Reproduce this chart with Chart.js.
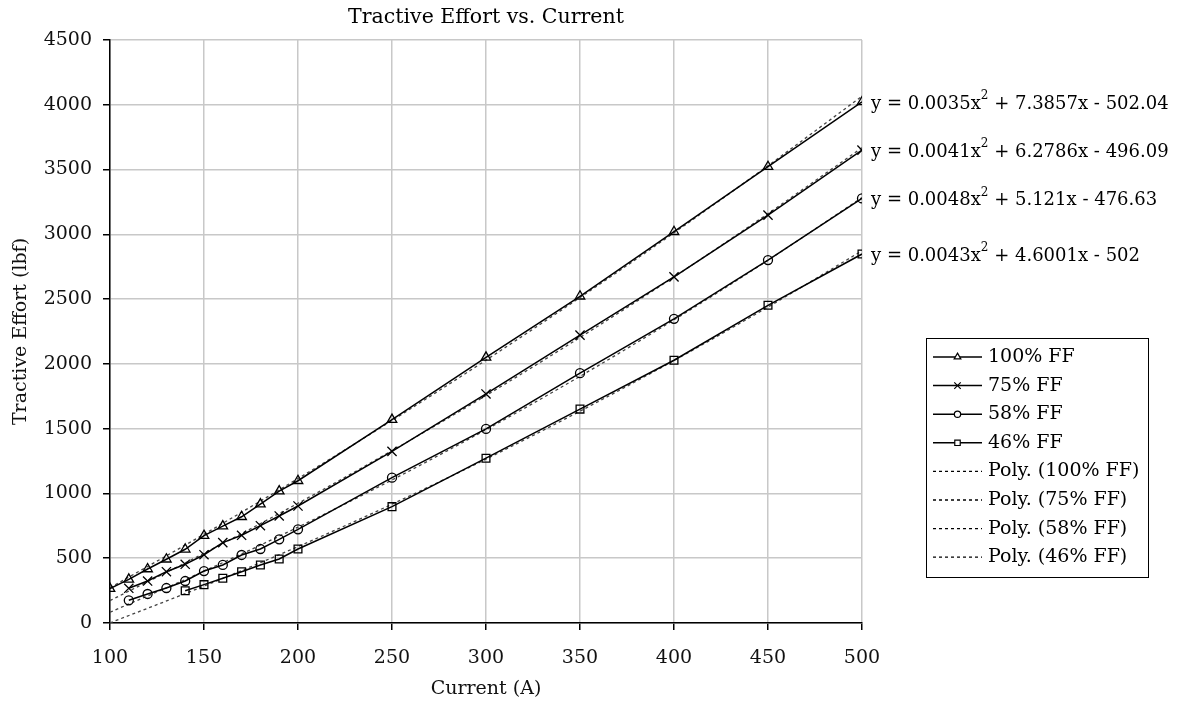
<!DOCTYPE html>
<html>
<head>
<meta charset="utf-8">
<title>Tractive Effort vs. Current</title>
<script src="https://cdn.jsdelivr.net/npm/chart.js@4.4.1/dist/chart.umd.min.js"></script>
<style>
  html, body { margin: 0; padding: 0; background: #fff; }
  #wrap { width: 1184px; height: 706px; }
</style>
</head>
<body>
<div id="wrap"><canvas id="chart" width="1184" height="706"></canvas></div>
<script>
// measured points
const currentLow = [100, 110, 120, 130, 140, 150, 160, 170, 180, 190, 200, 250, 300, 350, 400, 450, 500];
const current46 = [140, 150, 160, 170, 180, 190, 200, 250, 300, 350, 400, 450, 500];
const ff100 = [265, 337, 417, 492, 569, 674, 748, 820, 918, 1018, 1098, 1570, 2050, 2522, 3020, 3522, 4022];
const ff75 = [null, 268, 324, 396, 453, 527, 620, 677, 751, 826, 903, 1325, 1768, 2222, 2672, 3148, 3650];
const ff58 = [null, 175, 224, 270, 324, 401, 448, 525, 571, 646, 723, 1122, 1498, 1928, 2348, 2801, 3277];
const ff46 = [249, 296, 345, 396, 448, 494, 571, 898, 1272, 1651, 2028, 2452, 2848];

// trendlines (Excel poly fits)
const trendX = [100, 150, 200, 250, 300, 350, 400, 450, 500];
const trend100 = [272, 685, 1115, 1563, 2029, 2512, 3012, 3530, 4066];
const trend75 = [173, 538, 924, 1330, 1756, 2204, 2671, 3160, 3668];
const trend58 = [83, 400, 740, 1104, 1492, 1904, 2340, 2800, 3284];
const trend46 = [1, 285, 590, 917, 1265, 1635, 2026, 2439, 2873];

const seriesNames = ['100% FF', '75% FF', '58% FF', '46% FF'];
const eqLabels = [
    ['y = 0.0035x', '2', ' + 7.3857x - 502.04'],
    ['y = 0.0041x', '2', ' + 6.2786x - 496.09'],
    ['y = 0.0048x', '2', ' + 5.121x - 476.63'],
    ['y = 0.0043x', '2', ' + 4.6001x - 502']
];
const xTicks = [100, 150, 200, 250, 300, 350, 400, 450, 500];
const yTicks = [0, 500, 1000, 1500, 2000, 2500, 3000, 3500, 4000, 4500];

const FONT = 'DejaVu Serif';
const pts = (xs, ys) => xs.map((x, i) => ({ x: x, y: ys[i] })).filter(p => p.y !== null);

const markerStyles = ['triangle', 'crossRot', 'circle', 'rect'];
const markerSizes = [5.5, 6.5, 4.5, 5.5];
const dataSeries = [pts(currentLow, ff100), pts(currentLow, ff75), pts(currentLow, ff58), pts(current46, ff46)];
const trendSeries = [trend100, trend75, trend58, trend46];

const datasets = [];
dataSeries.forEach((d, i) => {
    datasets.push({
        label: seriesNames[i],
        data: d,
        borderColor: '#000',
        backgroundColor: 'rgba(0,0,0,0)',
        borderWidth: 1.5,
        pointStyle: markerStyles[i],
        pointRadius: markerSizes[i],
        pointBorderWidth: 1.3,
        pointBorderColor: '#000',
        pointBackgroundColor: 'rgba(0,0,0,0)',
        tension: 0
    });
});
trendSeries.forEach((t, i) => {
    datasets.push({
        label: 'Poly. (' + seriesNames[i] + ')',
        data: pts(trendX, t),
        borderColor: '#444',
        borderWidth: 1.3,
        borderDash: [3, 3],
        pointRadius: 0,
        cubicInterpolationMode: 'monotone'
    });
});

// title, equations, legend box
const extras = {
    id: 'extras',
    afterDraw(chart) {
        const ctx = chart.ctx;
        const area = chart.chartArea;
        const xs = chart.scales.x, ys = chart.scales.y;
        ctx.save();
        ctx.fillStyle = '#000';
        ctx.font = '20.5px "' + FONT + '"';
        ctx.textAlign = 'center';
        ctx.textBaseline = 'middle';
        ctx.fillText('Tractive Effort vs. Current', (area.left + area.right) / 2, 18);

        // equations next to the last point of each series
        ctx.textAlign = 'left';
        dataSeries.forEach((d, i) => {
            const last = d[d.length - 1];
            let px = xs.getPixelForValue(last.x) + 9;
            const py = ys.getPixelForValue(last.y) + 2;
            const parts = eqLabels[i];
            ctx.font = '18px "' + FONT + '"';
            ctx.fillText(parts[0], px, py);
            px += ctx.measureText(parts[0]).width;
            ctx.font = '12px "' + FONT + '"';
            ctx.fillText(parts[1], px, py - 8);
            px += ctx.measureText(parts[1]).width;
            ctx.font = '18px "' + FONT + '"';
            ctx.fillText(parts[2], px, py);
        });

        // legend
        const bx = 926, by = 338, bw = 222, bh = 239, rowH = 28.6;
        ctx.fillStyle = '#fff';
        ctx.fillRect(bx, by, bw, bh);
        ctx.strokeStyle = '#000';
        ctx.lineWidth = 1;
        ctx.strokeRect(bx + 0.5, by + 0.5, bw, bh);
        chart.data.datasets.forEach((ds, i) => {
            const cy = by + 19 + i * rowH;
            ctx.save();
            ctx.strokeStyle = '#000';
            ctx.lineWidth = ds.borderDash ? 1.3 : 1.5;
            ctx.setLineDash(ds.borderDash || []);
            ctx.beginPath();
            ctx.moveTo(933, cy);
            ctx.lineTo(982, cy);
            ctx.stroke();
            ctx.restore();
            if (ds.pointRadius > 0) {
                ctx.strokeStyle = '#000';
                ctx.fillStyle = '#fff';
                ctx.lineWidth = 1.2;
                Chart.helpers.drawPoint(ctx, {
                    pointStyle: ds.pointStyle,
                    radius: ds.pointRadius * 0.7,
                    rotation: 0,
                    borderWidth: 1.2
                }, 957.5, cy);
            }
            ctx.fillStyle = '#000';
            ctx.font = '19px "' + FONT + '"';
            ctx.textAlign = 'left';
            ctx.textBaseline = 'middle';
            ctx.fillText(ds.label, 988, cy);
        });
        ctx.restore();
    }
};

new Chart(document.getElementById('chart'), {
    type: 'line',
    data: { datasets: datasets },
    plugins: [extras],
    options: {
        responsive: false,
        animation: false,
        layout: { padding: { left: 0, top: 40, right: 322, bottom: 0 } },
        plugins: {
            legend: { display: false },
            title: { display: false },
            tooltip: { enabled: false }
        },
        scales: {
            x: {
                type: 'linear',
                min: 100,
                max: 500,
                afterBuildTicks: axis => { axis.ticks = xTicks.map(v => ({ value: v })); },
                afterFit: axis => { axis.height = 83; },
                grid: { color: '#c8c8c8', lineWidth: 1.5, tickColor: '#000', tickLength: 7 },
                border: { color: '#000', width: 1.5 },
                ticks: { color: '#111', font: { family: FONT, size: 19 }, padding: 17, maxRotation: 0,
                         callback: v => String(v) },
                title: { display: true, text: 'Current (A)', color: '#111', font: { family: FONT, size: 19 }, padding: { top: 0, bottom: 6 } }
            },
            y: {
                min: 0,
                max: 4500,
                afterBuildTicks: axis => { axis.ticks = yTicks.map(v => ({ value: v })); },
                afterFit: axis => { axis.width = 110; },
                grid: { color: '#c8c8c8', lineWidth: 1.5, tickColor: '#000', tickLength: 7 },
                border: { color: '#000', width: 1.5 },
                ticks: { color: '#111', font: { family: FONT, size: 19 }, padding: 11,
                         callback: v => String(v) },
                title: { display: true, text: 'Tractive Effort (lbf)', color: '#111', font: { family: FONT, size: 19 }, padding: { top: 10, bottom: 0 } }
            }
        }
    }
});
</script>
</body>
</html>
